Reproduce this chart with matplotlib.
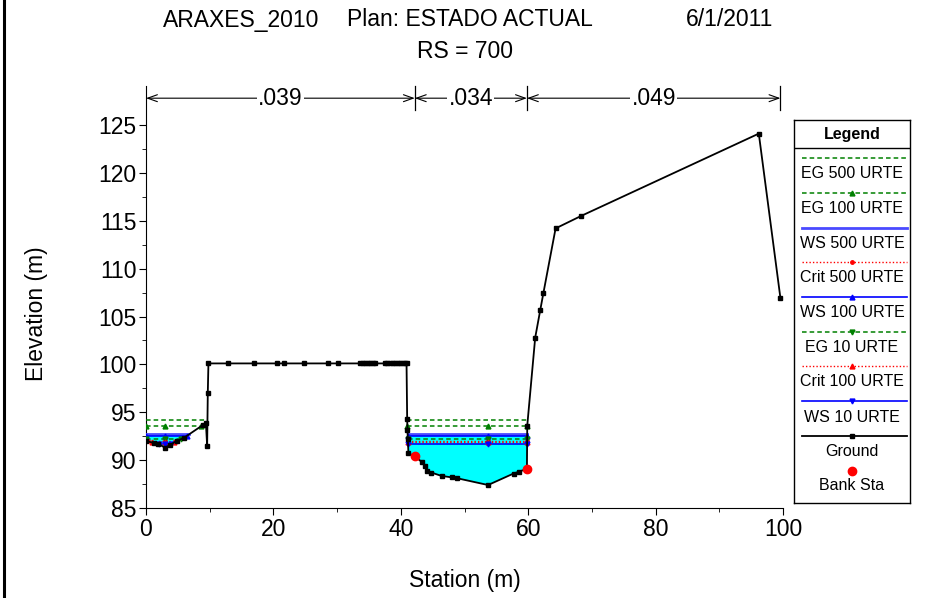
import numpy as np
import matplotlib.pyplot as plt
from matplotlib.lines import Line2D

plt.rcParams['font.family'] = ['Liberation Sans', 'DejaVu Sans']

# ground survey points (station, elevation)
ground_sta = [0.0, 1.2, 1.9, 3.0, 3.8, 4.8, 5.9, 9.0, 9.4, 9.6, 9.7, 9.8,
              12.8, 17.0, 20.6, 21.7, 24.8, 28.6, 30.1,
              33.6, 34.0, 34.4, 34.8, 35.2, 35.6, 36.0,
              37.5, 37.9, 38.3, 38.7, 39.1,
              39.5, 39.9, 40.3, 40.7, 40.9,
              41.0, 41.05, 41.1, 41.2, 42.2, 43.3, 43.8, 44.1, 44.8, 46.4,
              48.0, 48.9, 53.7, 57.7, 58.6, 59.8, 59.85,
              61.1, 61.9, 62.4, 64.3, 68.3, 96.2, 99.6]
ground_elev = [92.0, 91.8, 91.7, 91.3, 91.6, 92.0, 92.3, 93.7, 93.9, 91.5, 97.0, 100.1,
               100.1, 100.1, 100.1, 100.1, 100.1, 100.1, 100.1,
               100.1, 100.1, 100.1, 100.1, 100.1, 100.1, 100.1,
               100.1, 100.1, 100.1, 100.1, 100.1,
               100.1, 100.1, 100.1, 100.1, 100.1,
               94.3, 93.1, 92.2, 90.7, 90.4, 89.8, 89.4, 88.9, 88.7, 88.35,
               88.2, 88.1, 87.4, 88.6, 88.8, 89.1, 93.6,
               102.8, 105.7, 107.5, 114.2, 115.5, 124.1, 106.9]
bank_sta = [42.2, 59.8]

# manning's n regions
n_breaks = [0.0, 42.2, 59.8, 99.6]
n_values = ['.039', '.034', '.049']

# water surface profiles (legend order)
profile_names = ['EG 500 URTE', 'EG 100 URTE', 'WS 500 URTE', 'Crit 500 URTE',
                 'WS 100 URTE', 'EG 10 URTE', 'Crit 100 URTE', 'WS 10 URTE']
profile_elev = [94.2, 93.55, 92.7, 91.95, 92.55, 92.2, 91.85, 91.65]

green = '#008000'
dash = (0, (3, 2))
dot = (0, (1, 1.5))
styles = {
    'EG 500 URTE': dict(color=green, ls=dash, lw=1.1, marker=None),
    'EG 100 URTE': dict(color=green, ls=dash, lw=1.1, marker='^'),
    'WS 500 URTE': dict(color='#4a4aff', ls='-', lw=2.0, marker=None),
    'Crit 500 URTE': dict(color='red', ls=dot, lw=1.0, marker='o'),
    'WS 100 URTE': dict(color='blue', ls='-', lw=1.2, marker='^'),
    'EG 10 URTE': dict(color=green, ls=dash, lw=1.1, marker='v'),
    'Crit 100 URTE': dict(color='red', ls=dot, lw=1.0, marker='^'),
    'WS 10 URTE': dict(color='blue', ls='-', lw=1.2, marker='v'),
}

fig = plt.figure(figsize=(9.31, 5.98), dpi=100)
W, H = 931, 598
ax = fig.add_axes([146 / W, 1 - 508 / H, (783 - 146) / W, (508 - 83) / H])
ax.set_xlim(0, 100)
ax.set_ylim(85, 85 + (508 - 83) / 9.575)

xs = np.linspace(0, 100, 5001)
gs = np.interp(xs, ground_sta, ground_elev)


def wet_segments(level):
    wet = (gs < level).astype(int)
    edges = np.flatnonzero(np.diff(np.r_[0, wet, 0]))
    return list(zip(edges[::2], edges[1::2]))


# water fill up to the highest water surface
top_ws = max(e for n, e in zip(profile_names, profile_elev) if n.startswith('WS'))
ax.fill_between(xs, gs, top_ws, where=gs < top_ws, color='cyan', lw=0,
                interpolate=True, zorder=1)

for name, lev in zip(profile_names, profile_elev):
    st = styles[name]
    for a, b in wet_segments(lev):
        x0, x1 = xs[a], xs[b - 1]
        ax.plot([x0, x1], [lev, lev], color=st['color'], ls=st['ls'],
                lw=st['lw'], zorder=3)
        if st['marker'] and x1 - x0 > 1:
            xm = xs[a:b][np.argmin(gs[a:b])]
            ax.plot([x0, xm, x1], [lev] * 3, ls='none', marker=st['marker'],
                    color=st['color'], ms=3.5 if st['marker'] != 'o' else 2.5,
                    zorder=4)

ax.plot(ground_sta, ground_elev, color='black', lw=1.3, marker='s', ms=2.8,
        zorder=5)
ax.plot(bank_sta, np.interp(bank_sta, ground_sta, ground_elev), ls='none',
        marker='o', color='red', ms=6, zorder=6)

# manning's n annotation above the section
y_arr = 127.8
for x in n_breaks[1:]:
    ax.plot([x, x], [126.6, 129.1], color='black', lw=0.9, clip_on=False)
for x0, x1, n in zip(n_breaks[:-1], n_breaks[1:], n_values):
    ax.annotate('', xy=(x0, y_arr), xytext=(x1, y_arr),
                arrowprops=dict(arrowstyle='<->,head_length=0.7,head_width=0.25',
                                color='black', lw=0.8, shrinkA=0, shrinkB=0))
    ax.text((x0 + x1) / 2, y_arr, n, ha='center', va='center', fontsize=16.5,
            bbox=dict(fc='white', ec='none', pad=1), zorder=7)

for s in ['top', 'right']:
    ax.spines[s].set_visible(False)
ax.spines['left'].set_bounds(85, 129.1)
ax.set_xticks(np.arange(0, 101, 20))
ax.set_xticks(np.arange(10, 100, 20), minor=True)
ax.set_yticks(np.arange(85, 126, 5))
ax.set_yticks(np.arange(87.5, 126, 5), minor=True)
ax.tick_params(which='major', length=5, labelsize=16.5, pad=2)
ax.tick_params(which='minor', length=3)

title_y = 1 - 20 / H
fig.text(163 / W, title_y, 'ARAXES_2010', ha='left', va='center', fontsize=16.5)
fig.text(470 / W, title_y, 'Plan: ESTADO ACTUAL', ha='center', va='center',
         fontsize=16.5)
fig.text(773 / W, title_y, '6/1/2011', ha='right', va='center', fontsize=16.5)
fig.text(465 / W, 1 - 52 / H, 'RS = 700', ha='center', va='center',
         fontsize=16.5)
fig.text(465 / W, 1 - 580 / H, 'Station (m)', ha='center', va='center',
         fontsize=16.5)
fig.text(37 / W, 1 - 314 / H, 'Elevation (m)', ha='center', va='center',
         rotation=90, fontsize=16.5)

# left border of the window
fig.add_artist(Line2D([4 / W, 4 / W], [0, 1], transform=fig.transFigure,
                      color='black', lw=2.2))

# legend box drawn in pixel coordinates
L, R = 794, 910
lg = fig.add_axes([L / W, 1 - 503 / H, (R - L) / W, (503 - 120) / H])
lg.set_xlim(L, R)
lg.set_ylim(503, 120)
lg.set_xticks([])
lg.set_yticks([])
for s in lg.spines.values():
    s.set_linewidth(1.0)
cx = (L + R) / 2
lg.text(cx, 135, 'Legend', ha='center', va='center', fontsize=11.5,
        fontweight='bold')
lg.axhline(147.7, color='black', lw=1.0)
line_y = [157.7, 192.7, 227.7, 261.7, 296.7, 331.7, 365.7, 401]
for name, yl in zip(profile_names, line_y):
    st = styles[name]
    lg.plot([L + 8, R - 3], [yl, yl], color=st['color'], ls=st['ls'],
            lw=st['lw'])
    if st['marker']:
        lg.plot([cx], [yl], ls='none', marker=st['marker'], color=st['color'],
                ms=3.5 if st['marker'] != 'o' else 2.5)
    lg.text(cx, yl + 16, name, ha='center', va='center', fontsize=11.5)
lg.plot([L + 8, R - 3], [436, 436], color='black', lw=1.3)
lg.plot([cx], [436], ls='none', marker='s', color='black', ms=3)
lg.text(cx, 451, 'Ground', ha='center', va='center', fontsize=11.5)
lg.plot([cx], [471], ls='none', marker='o', color='red', ms=6)
lg.text(cx, 486, 'Bank Sta', ha='center', va='center', fontsize=11.5)

fig.savefig('out.png', dpi=100)
